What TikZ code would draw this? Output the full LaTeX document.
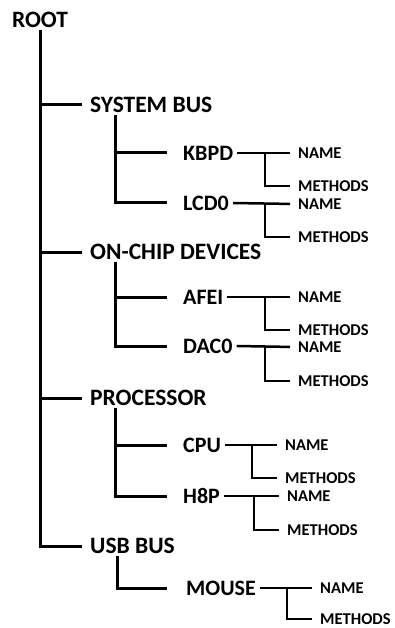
\documentclass[tikz,border=0pt]{standalone}
\usepackage{fontspec}
\setmainfont{Carlito}
\usepackage{tikz}
\usetikzlibrary{positioning, calc}

\begin{document}
\begin{tikzpicture}[x=1pt, y=-1pt,
        lvlzero/.style={inner xsep=4pt, inner ysep=2pt, font=\fontsize{23.5}{25}\selectfont\bfseries},
        lvlone/.style={anchor=west, inner xsep=4pt, inner ysep=2pt, font=\fontsize{23.5}{25}\selectfont\bfseries},
        lvltwo/.style={anchor=west, inner xsep=4pt, inner ysep=2pt, font=\fontsize{22}{24}\selectfont\bfseries},
        hoja/.style={anchor=west, inner xsep=4pt, inner ysep=1pt, font=\fontsize{16.5}{18}\selectfont\bfseries},
        trunk/.style={line width=3pt, shorten >=4pt},
        rama/.style={line width=3pt, shorten >=12pt},
        leaf/.style={line width=2.5pt, shorten >=4pt}
    ]
        \useasboundingbox (0,0) rectangle (394,628);

        \node[lvlzero] (root) at (40,20) {ROOT};

        \node[lvlone] (sysbus) at (86,105) {SYSTEM BUS};
        \node[lvlone] (onchip) at (86,252) {ON-CHIP DEVICES};
        \node[lvlone] (proc) at (86,398) {PROCESSOR};
        \node[lvlone] (usbbus) at (86,546) {USB BUS};

        \node[lvltwo] (kbpd) at (179,153) {KBPD};
        \node[lvltwo] (lcd) at (179,203) {LCD0};
        \node[lvltwo] (afei) at (179,297) {AFEI};
        \node[lvltwo] (dac) at (179,346) {DAC0};
        \node[lvltwo] (cpu) at (179,445) {CPU};
        \node[lvltwo] (hep) at (179,496) {H8P};
        \node[lvltwo] (mouse) at (182,588) {MOUSE};

        \node[hoja] (kbpdname) at (294,153) {NAME};
        \node[hoja] (kbpdmeth) at (294,186) {METHODS};
        \node[hoja] (lcdname) at (294,204) {NAME};
        \node[hoja] (lcdmeth) at (294,237) {METHODS};
        \node[hoja] (afeiname) at (294,297) {NAME};
        \node[hoja] (afeimeth) at (294,330) {METHODS};
        \node[hoja] (dacname) at (294,347) {NAME};
        \node[hoja] (dacmeth) at (294,381) {METHODS};
        \node[hoja] (cpuname) at (281,445) {NAME};
        \node[hoja] (cpumeth) at (281,478) {METHODS};
        \node[hoja] (hepname) at (283,496) {NAME};
        \node[hoja] (hepmeth) at (283,530) {METHODS};
        \node[hoja] (mousename) at (316,588) {NAME};
        \node[hoja] (mousemeth) at (316,619) {METHODS};

        % tronco principal
        \draw[trunk] (root.south) |- (sysbus.west);
        \draw[trunk] (root.south) |- (onchip.west);
        \draw[trunk] (root.south) |- (proc.west);
        \draw[trunk] (root.south) |- (usbbus.west);

        % segundo nivel
        \draw[rama] ([xshift=29pt]sysbus.south west) |- (kbpd.west);
        \draw[rama] ([xshift=29pt]sysbus.south west) |- (lcd.west);
        \draw[rama] ([xshift=29pt]onchip.south west) |- (afei.west);
        \draw[rama] ([xshift=29pt]onchip.south west) |- (dac.west);
        \draw[rama] ([xshift=29pt]proc.south west) |- (cpu.west);
        \draw[rama] ([xshift=29pt]proc.south west) |- (hep.west);
        \draw[rama, shorten >=15pt] ([xshift=31pt]usbbus.south west) |- (mouse.west);

        % hojas
        \foreach \n in {kbpd, lcd, afei, dac, cpu, hep, mouse} {
            \draw[leaf] (\n.east) -- (\n name.west);
            \draw[leaf] ([xshift=-29pt]\n name.west) |- (\n meth.west);
        }
    \end{tikzpicture}
\end{document}
